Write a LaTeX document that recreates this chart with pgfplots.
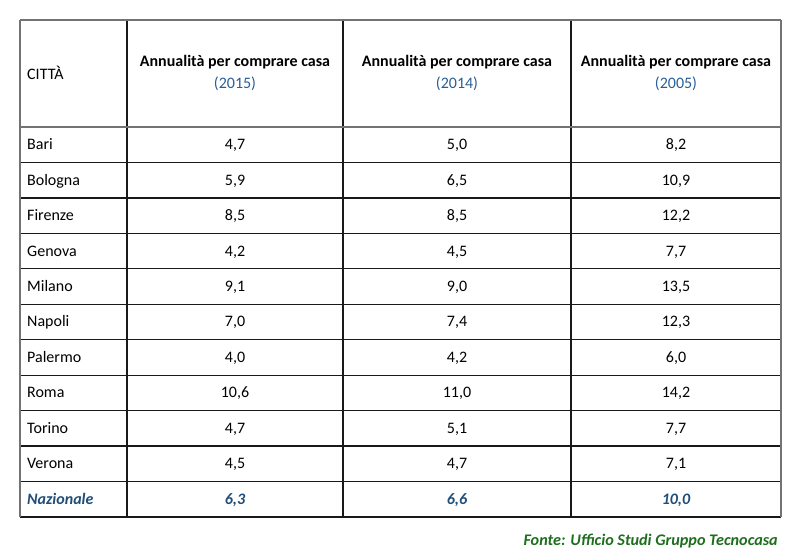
\documentclass[border=0pt]{standalone}
\usepackage{pgfplots}
\pgfplotsset{compat=1.18}
\usepackage{pgfplotstable}
\usepackage{fontspec}
\setmainfont{Carlito}
\definecolor{navy}{RGB}{31,78,121}
\definecolor{yearblue}{RGB}{40,95,150}
\definecolor{fonte}{RGB}{30,110,30}
\definecolor{rulec}{RGB}{25,25,25}
\definecolor{thickc}{RGB}{115,115,115}

\pgfplotstableread{
row city v15 v14 v05
0 Bari 4.7 5.0 8.2
1 Bologna 5.9 6.5 10.9
2 Firenze 8.5 8.5 12.2
3 Genova 4.2 4.5 7.7
4 Milano 9.1 9.0 13.5
5 Napoli 7.0 7.4 12.3
6 Palermo 4.0 4.2 6.0
7 Roma 10.6 11.0 14.2
8 Torino 4.7 5.1 7.7
9 Verona 4.5 4.7 7.1
}\cities
\pgfplotstableread{
row city v15 v14 v05
10 Nazionale 6.3 6.6 10.0
}\national

\newcommand{\bodyfont}{\fontsize{16bp}{19bp}\selectfont}
\begin{document}
\begin{tikzpicture}
\begin{axis}[
  width=800bp, height=556bp, scale only axis,
  xmin=0, xmax=800, ymin=0, ymax=556, y dir=reverse,
  hide axis, clip=false,
  nodes near coords align={center},
  every node near coord/.append style={font=\bodyfont, inner sep=0pt, text height=12bp, text depth=2bp},
]
% grid lines
\addplot[rulec, line width=1.2bp] coordinates {(20,162.45) (781,162.45)};
\addplot[rulec, line width=1.2bp] coordinates {(20,197.9) (781,197.9)};
\addplot[rulec, line width=1.2bp] coordinates {(20,233.35) (781,233.35)};
\addplot[rulec, line width=1.2bp] coordinates {(20,268.8) (781,268.8)};
\addplot[rulec, line width=1.2bp] coordinates {(20,304.25) (781,304.25)};
\addplot[rulec, line width=1.2bp] coordinates {(20,339.7) (781,339.7)};
\addplot[rulec, line width=1.2bp] coordinates {(20,375.15) (781,375.15)};
\addplot[rulec, line width=1.2bp] coordinates {(20,410.6) (781,410.6)};
\addplot[rulec, line width=1.2bp] coordinates {(20,446.05) (781,446.05)};
\addplot[rulec, line width=1.2bp] coordinates {(20,481.5) (781,481.5)};
\addplot[rulec, line width=1.5bp] coordinates {(20,517) (781,517)};
\addplot[rulec, line width=1.3bp] coordinates {(127,20) (127,517)};
\addplot[rulec, line width=1.3bp] coordinates {(343,20) (343,517)};
\addplot[rulec, line width=1.3bp] coordinates {(571,20) (571,517)};
\addplot[thickc, line width=2bp] coordinates {(20,20) (20,517)};
\addplot[thickc, line width=2bp] coordinates {(781,20) (781,517)};
\addplot[thickc, line width=2.2bp] coordinates {(20,20) (781,20)};
\addplot[thickc, line width=2.4bp] coordinates {(20,127) (781,127)};

% city names
\addplot[only marks, mark=none, point meta=explicit symbolic,
  nodes near coords, every node near coord/.append style={anchor=west}]
  table[x expr=27, y expr=127+35.45*(\thisrow{row}+0.5), meta=city] {\cities};
% values
\pgfplotsset{valfmt/.style={only marks, mark=none, point meta=explicit,
  nodes near coords={\pgfmathprintnumber[fixed,fixed zerofill,precision=1,use comma,assume math mode=true]{\pgfplotspointmeta}}}}
\addplot[valfmt] table[x expr=235, y expr=127+35.45*(\thisrow{row}+0.5), meta=v15] {\cities};
\addplot[valfmt] table[x expr=457, y expr=127+35.45*(\thisrow{row}+0.5), meta=v14] {\cities};
\addplot[valfmt] table[x expr=676, y expr=127+35.45*(\thisrow{row}+0.5), meta=v05] {\cities};
% national row
\addplot[only marks, mark=none, point meta=explicit symbolic,
  nodes near coords, every node near coord/.append style={anchor=west, text=navy, font=\bodyfont\bfseries\itshape}]
  table[x expr=27, y expr=127+35.45*(\thisrow{row}+0.5), meta=city] {\national};
\addplot[valfmt, every node near coord/.append style={text=navy, font=\bodyfont\bfseries\itshape}] table[x expr=235, y expr=127+35.45*(\thisrow{row}+0.5), meta=v15] {\national};
\addplot[valfmt, every node near coord/.append style={text=navy, font=\bodyfont\bfseries\itshape}] table[x expr=457, y expr=127+35.45*(\thisrow{row}+0.5), meta=v14] {\national};
\addplot[valfmt, every node near coord/.append style={text=navy, font=\bodyfont\bfseries\itshape}] table[x expr=676, y expr=127+35.45*(\thisrow{row}+0.5), meta=v05] {\national};

% header
\tikzset{hdr/.style={inner sep=0pt, text height=12bp, text depth=2bp}}
\node[hdr, anchor=west, font=\bodyfont] at (axis cs:27,75) {CITTÀ};
\node[hdr, font=\bodyfont\bfseries] at (axis cs:235,62) {Annualità per comprare casa};
\node[hdr, font=\bodyfont\bfseries] at (axis cs:457,62) {Annualità per comprare casa};
\node[hdr, font=\bodyfont\bfseries] at (axis cs:676,62) {Annualità per comprare casa};
\node[hdr, font=\bodyfont, text=yearblue] at (axis cs:235,84) {(2015)};
\node[hdr, font=\bodyfont, text=yearblue] at (axis cs:457,84) {(2014)};
\node[hdr, font=\bodyfont, text=yearblue] at (axis cs:676,84) {(2005)};
% source
\node[hdr, anchor=east, font=\fontsize{16.2bp}{19bp}\selectfont\bfseries\itshape, text=fonte] at (axis cs:778,540) {Fonte: Ufficio Studi Gruppo Tecnocasa};
\end{axis}
\pgfresetboundingbox
\path[use as bounding box] (0,0) rectangle (800bp,556bp);
\end{tikzpicture}
\end{document}
